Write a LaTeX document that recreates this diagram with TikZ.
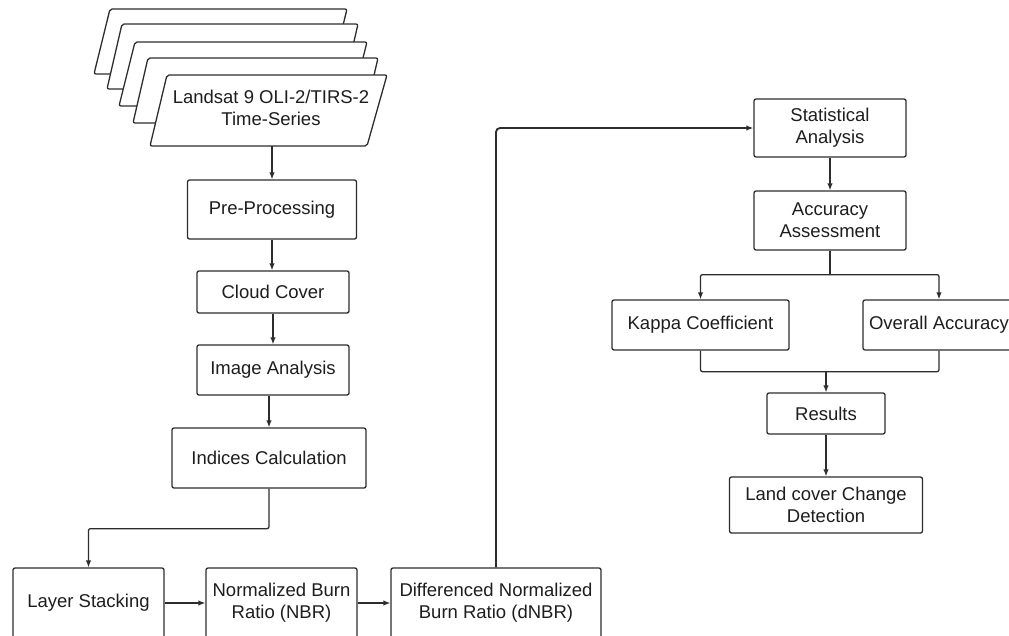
\documentclass[tikz,border=0pt]{standalone}
\usepackage{fontspec}
\setmainfont{Liberation Sans}
\usetikzlibrary{arrows.meta}
\definecolor{lncol}{RGB}{45,45,45}
\definecolor{txcol}{RGB}{30,30,30}
\begin{document}
\begin{tikzpicture}[x=1pt,y=-1pt,
  box/.style={draw=lncol, fill=white, line width=1.3pt, rounded corners=2pt, align=center, text=txcol,
    font=\fontsize{18.5}{22}\selectfont, inner sep=0pt},
  arr/.style={draw=lncol, line width=1.3pt, -{Latex[length=7pt,width=5.5pt]}},
  conn/.style={draw=lncol, line width=1.3pt},
  sheet/.style={draw=lncol, fill=white, line width=1.3pt, rounded corners=2pt}]
\useasboundingbox (0,0) rectangle (1009,635);
\clip (0,0) rectangle (1009,635);
\fill[white] (0,0) rectangle (1009,635);
% stacked sheets
\draw[sheet] (110,9) -- (347,9) -- (331,74) -- (94,74) -- cycle;
\draw[sheet] (122,24) -- (358,24) -- (343,89) -- (107,89) -- cycle;
\draw[sheet] (135,42) -- (367,42) -- (351,106) -- (119,106) -- cycle;
\draw[sheet] (148,58) -- (378,58) -- (363,123) -- (133,123) -- cycle;
\draw[sheet] (167,75) -- (387,75) -- (367,146) -- (150,146) -- cycle;
\node[align=center, text=txcol, font=\fontsize{18.5}{22}\selectfont, inner sep=0pt] (lsat) at (271,108) {Landsat 9 OLI-2/TIRS-2\\Time-Series};
\coordinate (lsatbot) at (272,146);
% left column
\node[box, minimum width=169pt, minimum height=59pt] (pre) at (272,209.5) {Pre-Processing};
\node[box, minimum width=152pt, minimum height=42pt] (cloud) at (273,292) {Cloud Cover};
\node[box, minimum width=152pt, minimum height=50pt] (img) at (273,370) {Image Analysis};
\node[box, minimum width=194pt, minimum height=60pt] (ind) at (269,458) {Indices Calculation};
% bottom row
\node[box, minimum width=151pt, minimum height=70pt] (lay) at (88.5,603) {Layer Stacking};
\node[box, minimum width=151pt, minimum height=70pt] (nbr) at (281.5,603) {Normalized Burn\\Ratio (NBR)};
\node[box, minimum width=210pt, minimum height=70pt] (dnbr) at (496,603) {Differenced Normalized\\Burn Ratio (dNBR)};
% right column
\node[box, minimum width=152pt, minimum height=58pt] (stat) at (830,128) {Statistical\\Analysis};
\node[box, minimum width=152pt, minimum height=59pt] (acc) at (830,220.5) {Accuracy\\Assessment};
\node[box, minimum width=177pt, minimum height=50pt] (kappa) at (700.5,325) {Kappa Coefficient};
\node[box, minimum width=152pt, minimum height=50pt] (overall) at (939,325) {Overall Accuracy};
\node[box, minimum width=118pt, minimum height=41pt] (res) at (826,413.5) {Results};
\node[box, minimum width=193pt, minimum height=56pt] (land) at (826,505) {Land cover Change\\Detection};
% connectors
\draw[arr] (lsatbot) -- (lsatbot |- pre.north);
\draw[arr] (pre.south) -- (pre.south |- cloud.north);
\draw[arr] (cloud.south) -- (cloud.south |- img.north);
\draw[arr] (img.south -| ind.north) -- (ind.north);
\draw[arr, rounded corners=2pt] (ind.south) -- ++(0,40) -| (lay.north);
\draw[arr] (lay.east) -- (nbr.west);
\draw[arr] (nbr.east) -- (dnbr.west);
\draw[arr, line width=1.8pt, rounded corners=4pt] (dnbr.north) |- (stat.west);
\draw[arr] (stat.south) -- (acc.north);
\draw[conn] (acc.south) -- ++(0,24) coordinate (split);
\draw[arr, rounded corners=2pt] (split) -| (kappa.north);
\draw[arr, rounded corners=2pt] (split) -| (overall.north);
\draw[conn, rounded corners=2pt] (kappa.south) -- ++(0,21) coordinate (mergeL) -| (overall.south);
\draw[arr] (mergeL -| res.north) -- (res.north);
\draw[arr] (res.south) -- (land.north);
\end{tikzpicture}
\end{document}
